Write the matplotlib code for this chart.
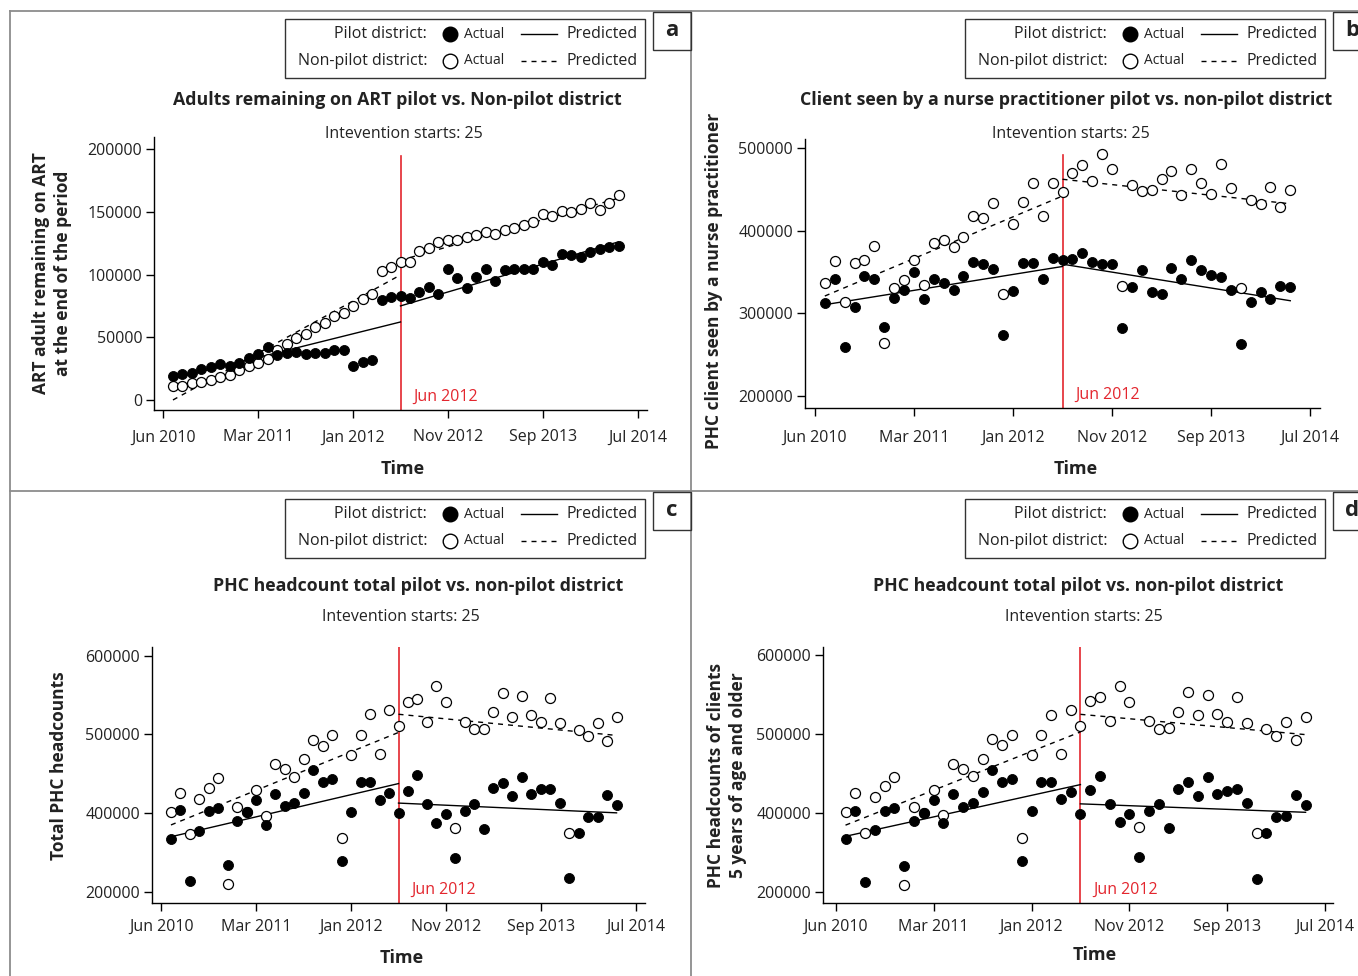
import numpy as np
import matplotlib
matplotlib.use("Agg")
import matplotlib.pyplot as plt
from matplotlib.patches import Rectangle
from matplotlib.transforms import blended_transform_factory

plt.rcParams['font.family'] = ['Open Sans', 'DejaVu Sans']

# ---------------- data ----------------
months = list(range(1, 49))
intervention = 25
xtick_pos = [0, 10, 20, 30, 40, 50]
xtick_labels = ["Jun 2010", "Mar 2011", "Jan 2012", "Nov 2012", "Sep 2013", "Jul 2014"]

# Panel a: ART adults remaining on ART
art_pilot = [19200, 20500, 21500, 24700, 26300, 28700, 27400, 29500, 33200, 37000, 42600, 35600,
             37200, 38600, 37000, 37200, 37500, 39600, 40200, 27100, 30300, 31600, 79800, 81900,
             83200, 81700, 85900, 90200, 84600, 104800, 97600, 89100, 98400, 104300, 95200, 103500,
             104300, 104800, 104800, 110400, 107500, 116200, 115400, 114400, 117800, 120000, 121800, 122900]
art_nonpilot = [11400, 11400, 13300, 14100, 15700, 18400, 19700, 24200, 26900, 29800, 33000, 39600,
                45000, 49700, 52900, 58300, 61700, 66800, 69400, 75300, 80600, 84800, 102700, 106100,
                110100, 110100, 118400, 121000, 125800, 127900, 127700, 130100, 131400, 134100, 132500, 135400,
                137500, 139400, 142000, 148200, 146600, 150300, 149800, 152100, 156900, 151100, 156900, 163600]
art_pred_pilot_pre = [17000, 62200]
art_pred_pilot_post = [75000, 126100]
art_pred_np_pre = [0, 99700]
art_pred_np_post = [111400, 160900]

# Panel b: clients seen by a nurse practitioner
nurse_pilot = [311800, 341100, 258500, 307700, 344700, 341900, 283300, 318700, 328500, 350000, 317100, 341100,
               336600, 327600, 345100, 362200, 359000, 353700, 274000, 326800, 360600, 361000, 341500, 366700,
               363800, 365900, 372800, 361800, 359000, 359800, 282100, 331700, 352400, 325600, 322800, 354100,
               341900, 363800, 352000, 346300, 343500, 328000, 262600, 313400, 325200, 317500, 332500, 331300]
nurse_nonpilot = [336600, 363400, 313400, 361000, 364600, 381700, 263400, 330500, 339800, 364600, 333700, 385000,
                  388200, 380100, 391900, 417500, 415000, 432900, 323200, 408500, 434100, 457700, 417900, 458100,
                  447200, 469500, 479300, 459800, 493100, 474800, 332900, 455700, 448000, 449600, 462200, 472400,
                  443100, 474800, 457700, 443900, 480100, 451200, 330100, 436600, 431700, 452800, 428000, 448800]
nurse_pred_pilot_pre = [310200, 356500]
nurse_pred_pilot_post = [359300, 315000]
nurse_pred_np_pre = [320700, 441900]
nurse_pred_np_post = [462200, 432500]

# Panel c: total PHC headcounts
phc_pilot = [366400, 403600, 313300, 377100, 402300, 406200, 333400, 390300, 401000, 416000, 384800, 424100,
             408300, 413000, 425400, 454100, 440000, 443400, 338600, 401500, 440000, 440000, 416900, 425800,
             399700, 428400, 448100, 411700, 387800, 398500, 343300, 402700, 410900, 379600, 431800, 438300,
             421600, 445500, 424100, 430600, 430600, 412200, 317600, 374100, 395500, 395500, 422800, 410400]
phc_nonpilot = [401000, 425000, 373600, 418100, 432300, 445100, 309500, 407000, 401000, 429300, 395900, 462200,
                455400, 445500, 468200, 492600, 484900, 499000, 367700, 473300, 498600, 526400, 474600, 530700,
                510100, 541400, 544800, 516100, 561500, 540500, 381300, 515700, 507100, 507100, 528100, 552100,
                522500, 548700, 524700, 515700, 546500, 514800, 374100, 505900, 497700, 514800, 491300, 521700]
phc_pred_pilot_pre = [369800, 437400]
phc_pred_pilot_post = [412600, 400200]
phc_pred_np_pre = [384800, 502400]
phc_pred_np_post = [525500, 498600]

# Panel d: PHC headcounts of clients 5 years and older
phc5_pilot = [366800, 402700, 312500, 377900, 402300, 405700, 332600, 389900, 399700, 416000, 386500, 423300,
              407000, 412200, 425800, 453700, 439500, 442500, 338600, 401900, 439500, 439500, 417300, 426700,
              398500, 428400, 446800, 411300, 388200, 398900, 343700, 402300, 411300, 380100, 430100, 439100,
              421600, 444700, 424100, 428000, 430600, 412600, 316700, 374100, 394600, 395900, 422400, 410400]
phc5_nonpilot = [400600, 425000, 374100, 419400, 433500, 445100, 309000, 407900, 399700, 429300, 397600, 461400,
                 455800, 446400, 468600, 493000, 485300, 498200, 368100, 473300, 498600, 524300, 474600, 530300,
                 509700, 541800, 546100, 516100, 560200, 540900, 381800, 516100, 506700, 507100, 527700, 552900,
                 523400, 549100, 525100, 514400, 546500, 514000, 374100, 505900, 497000, 514400, 491700, 521700]
phc5_pred_pilot_pre = [370200, 435700]
phc5_pred_pilot_post = [411300, 400600]
phc5_pred_np_pre = [384300, 502400]
phc5_pred_np_post = [524700, 499000]

ytick_a = [0, 50000, 100000, 150000, 200000]
ytick_b = [200000, 300000, 400000, 500000]
ytick_cd = [300000, 400000, 500000, 600000]
ytick_cd_labels = ["200000", "400000", "500000", "600000"]

# ---------------- figure ----------------
W, H = 1358, 976
fig = plt.figure(figsize=(W / 100, H / 100), dpi=100)
fig.patch.set_facecolor('white')

ov = fig.add_axes([0, 0, 1, 1])
ov.set_xlim(0, W)
ov.set_ylim(H, 0)
ov.axis('off')

RED = '#e3262e'
GRAY = '#8c8c8c'
TXT = '#222222'
TICK_FS = 11.5


def px_axes(x0, y0, x1, y1):
    return fig.add_axes([x0 / W, 1 - y1 / H, (x1 - x0) / W, (y1 - y0) / H])


def draw_panel(ax, pilot, nonpilot, pp_pre, pp_post, np_pre, np_post,
               ylim, yticks, ylabels, red_top_frac, xlim=(-1, 51), xpad=6):
    ax.set_xlim(*xlim)
    ax.set_ylim(*ylim)
    for s in ['top', 'right']:
        ax.spines[s].set_visible(False)
    for s in ['left', 'bottom']:
        ax.spines[s].set_linewidth(1.0)
    ax.set_xticks(xtick_pos)
    ax.set_xticklabels(xtick_labels, fontsize=TICK_FS, color=TXT)
    ax.set_yticks(yticks)
    ax.set_yticklabels(ylabels, fontsize=TICK_FS, color=TXT)
    ax.tick_params(axis='x', length=5.5, width=1.0, pad=xpad)
    ax.tick_params(axis='y', length=5.5, width=1.0, pad=3)
    ax.patch.set_alpha(0)

    ax.plot([1, intervention], pp_pre, color='black', lw=1.0, zorder=2)
    ax.plot([intervention, 48], pp_post, color='black', lw=1.0, zorder=2)
    ax.plot([1, intervention], np_pre, color='black', lw=1.0, dashes=(3.6, 3.6), zorder=2)
    ax.plot([intervention, 48], np_post, color='black', lw=1.0, dashes=(3.6, 3.6), zorder=2)

    ax.plot(months, nonpilot, linestyle='none', marker='o', markersize=7.2,
            markerfacecolor='white', markeredgecolor='black', markeredgewidth=0.9, zorder=3)
    ax.plot(months, pilot, linestyle='none', marker='o', markersize=7.2,
            markerfacecolor='black', markeredgecolor='black', markeredgewidth=0.6, zorder=4)

    ax.axvline(intervention, ymin=0, ymax=red_top_frac, color=RED, lw=1.2, zorder=1)
    tr = blended_transform_factory(ax.transData, ax.transAxes)
    ax.text(26.3, 0.05, "Jun 2012", transform=tr, color=RED, fontsize=TICK_FS,
            ha='left', va='center')


# panel axes (pixel boxes)
ax_a = px_axes(154, 137, 647, 410)
ax_b = px_axes(805, 139, 1320, 408)
ax_c = px_axes(152, 647, 645, 903)
ax_d = px_axes(823, 647, 1333, 903)

draw_panel(ax_a, art_pilot, art_nonpilot, art_pred_pilot_pre, art_pred_pilot_post,
           art_pred_np_pre, art_pred_np_post, (-8000, 209700), ytick_a,
           [str(v) for v in ytick_a], 0.93, xpad=8.5)
draw_panel(ax_b, nurse_pilot, nurse_nonpilot, nurse_pred_pilot_pre, nurse_pred_pilot_post,
           nurse_pred_np_pre, nurse_pred_np_post, (185000, 511000), ytick_b,
           [str(v) for v in ytick_b], 0.94, xpad=10)
draw_panel(ax_c, phc_pilot, phc_nonpilot, phc_pred_pilot_pre, phc_pred_pilot_post,
           phc_pred_np_pre, phc_pred_np_post, (285600, 611000), ytick_cd, ytick_cd_labels, 1.0)
draw_panel(ax_d, phc5_pilot, phc5_nonpilot, phc5_pred_pilot_pre, phc5_pred_pilot_post,
           phc5_pred_np_pre, phc5_pred_np_post, (285700, 610000), ytick_cd, ytick_cd_labels, 1.0,
           xlim=(-1.3, 50.8))

# ---------------- frames ----------------
fl = dict(color=GRAY, lw=1.3, zorder=1)
ov.plot([10, W], [11, 11], **fl)
ov.plot([10, 10], [11, H], **fl)
ov.plot([691, 691], [11, H], **fl)
ov.plot([10, W], [491, 491], **fl)


def legend_box(x0, y0, letter):
    # x0, y0: top-left of legend box
    ov.add_patch(Rectangle((x0, y0), 360, 59, fill=False, edgecolor='#333333', lw=1.0, zorder=2))
    r1, r2 = y0 + 15, y0 + 42
    ov.text(x0 + 142, r1, "Pilot district:", ha='right', va='center', fontsize=11.5, color=TXT)
    ov.text(x0 + 142, r2, "Non-pilot district:", ha='right', va='center', fontsize=11.5, color=TXT)
    ov.plot([x0 + 165], [r1], marker='o', markersize=10.5, markerfacecolor='black',
            markeredgecolor='black', linestyle='none')
    ov.plot([x0 + 165], [r2], marker='o', markersize=10.5, markerfacecolor='white',
            markeredgecolor='black', markeredgewidth=1.0, linestyle='none')
    ov.text(x0 + 179, r1, "Actual", ha='left', va='center', fontsize=10, color=TXT)
    ov.text(x0 + 179, r2, "Actual", ha='left', va='center', fontsize=10, color=TXT)
    ov.plot([x0 + 236, x0 + 272], [r1, r1], color='black', lw=1.0)
    ov.plot([x0 + 236, x0 + 272], [r2, r2], color='black', lw=1.0, dashes=(3.6, 3.6))
    ov.text(x0 + 281, r1, "Predicted", ha='left', va='center', fontsize=11.5, color=TXT)
    ov.text(x0 + 281, r2, "Predicted", ha='left', va='center', fontsize=11.5, color=TXT)
    # letter box
    lx, ly = x0 + 368, y0 - 7
    ov.add_patch(Rectangle((lx, ly), 38, 38, fill=False, edgecolor='#333333', lw=1.0, zorder=2))
    ov.text(lx + 19, ly + 18, letter, ha='center', va='center', fontsize=16,
            fontweight='bold', color=TXT)


legend_box(285, 19, 'a')
legend_box(965, 19, 'b')
legend_box(285, 499, 'c')
legend_box(965, 499, 'd')

TITLE_FS = 12.8
ov.text(397, 100, "Adults remaining on ART pilot vs. Non-pilot district", ha='center', va='center',
        fontsize=TITLE_FS, fontweight='bold', color=TXT)
ov.text(404, 134, "Intevention starts: 25", ha='center', va='center', fontsize=11.5, color=TXT)
ov.text(1066, 100, "Client seen by a nurse practitioner pilot vs. non-pilot district", ha='center',
        va='center', fontsize=TITLE_FS, fontweight='bold', color=TXT)
ov.text(1071, 134, "Intevention starts: 25", ha='center', va='center', fontsize=11.5, color=TXT)
ov.text(418, 586, "PHC headcount total pilot vs. non-pilot district", ha='center', va='center',
        fontsize=TITLE_FS, fontweight='bold', color=TXT)
ov.text(401, 617, "Intevention starts: 25", ha='center', va='center', fontsize=11.5, color=TXT)
ov.text(1078, 586, "PHC headcount total pilot vs. non-pilot district", ha='center', va='center',
        fontsize=TITLE_FS, fontweight='bold', color=TXT)
ov.text(1084, 617, "Intevention starts: 25", ha='center', va='center', fontsize=11.5, color=TXT)

YL_FS = 12.5
ov.text(52, 273, "ART adult remaining on ART\nat the end of the period", rotation=90, ha='center',
        va='center', fontsize=YL_FS, fontweight='bold', color=TXT, linespacing=1.35)
ov.text(714, 281, "PHC client seen by a nurse practitioner", rotation=90, ha='center', va='center',
        fontsize=YL_FS, fontweight='bold', color=TXT)
ov.text(59, 766, "Total PHC headcounts", rotation=90, ha='center', va='center',
        fontsize=YL_FS, fontweight='bold', color=TXT)
ov.text(727, 775, "PHC headcounts of clients\n5 years of age and older", rotation=90, ha='center',
        va='center', fontsize=YL_FS, fontweight='bold', color=TXT, linespacing=1.35)

ov.text(403, 469, "Time", ha='center', va='center', fontsize=13, fontweight='bold', color=TXT)
ov.text(1076, 469, "Time", ha='center', va='center', fontsize=13, fontweight='bold', color=TXT)
ov.text(402, 958, "Time", ha='center', va='center', fontsize=13, fontweight='bold', color=TXT)
ov.text(1095, 955, "Time", ha='center', va='center', fontsize=13, fontweight='bold', color=TXT)

fig.savefig("out.png", dpi=100)
